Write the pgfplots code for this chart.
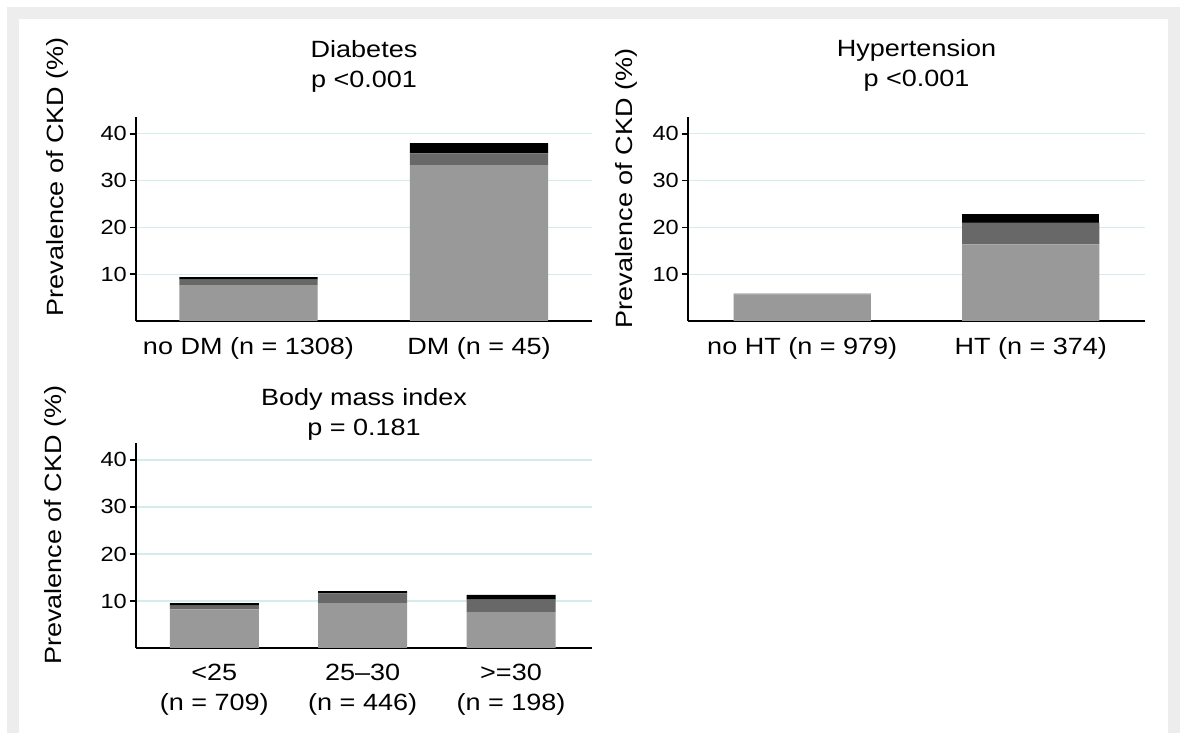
\documentclass[border=0pt]{standalone}
\usepackage{fontspec}
\setmainfont{Liberation Sans}[FakeStretch=1.15]
\usepackage{pgfplots}
\pgfplotsset{compat=1.18}
\definecolor{frame}{HTML}{EDEDED}
\definecolor{lightbar}{HTML}{999999}
\definecolor{darkbar}{HTML}{686868}
\definecolor{gridc}{HTML}{D5ECEF}
\newcommand{\bigf}{\fontsize{23.5}{30}\selectfont}
\newcommand{\tickf}{\fontsize{20.5}{24}\selectfont}
\pgfplotsset{
  ckd/.style={
    scale only axis,
    ybar stacked,
    bar width=0.6,
    ymin=0, ymax=43.6,
    ytick={10,20,30,40},
    xtick=data,
    axis x line=bottom,
    axis y line=left,
    axis line style={line width=1.5pt,-},
    tick align=outside,
    major tick length=6pt,
    ytick style={line width=1.5pt,black},
    xtick style={draw=none},
    ymajorgrids,
    grid style={gridc,line width=1.2pt},
    /pgf/number format/assume math mode=true,
    yticklabel style={font=\tickf,inner sep=0pt,anchor=east,xshift=-3pt},
    xticklabel style={font=\bigf,inner sep=0pt,anchor=north,align=center,yshift=-10pt},
    title style={font=\bigf,align=center,inner sep=0pt,at={(0.5,1)},anchor=north},
    ylabel={Prevalence of CKD (\%)},
    ylabel style={font=\bigf,inner sep=0pt,anchor=base west,rotate=0},
    every axis plot/.append style={draw=none},
  }
}
\begin{document}
\begin{tikzpicture}
\useasboundingbox (0pt,0pt) rectangle (1187pt,733pt);
\fill[frame] (7pt,0pt) rectangle (1180pt,726pt);
\fill[white] (19pt,0pt) rectangle (1168pt,714pt);

% Panel 1: Diabetes
\begin{axis}[ckd,
  at={(136pt,412pt)}, anchor=south west,
  width=456pt, height=204pt,
  xmin=-0.488, xmax=1.49,
  xticklabels={no DM (n = 1308), DM (n = 45)},
  title={Diabetes\\p <0.001},
  title style={yshift=71pt},
  ylabel style={at={(axis description cs:-0.1594,0.021)}},
]
\addplot[fill=lightbar] coordinates {(0,7.65) (1,33.3)};
\addplot[fill=darkbar] coordinates {(0,1.2) (1,2.5)};
\addplot[fill=black] coordinates {(0,0.55) (1,2.2)};
\end{axis}

% Panel 2: Hypertension
\begin{axis}[ckd,
  at={(688pt,412pt)}, anchor=south west,
  width=457pt, height=204pt,
  xmin=-0.5, xmax=1.5,
  xticklabels={no HT (n = 979), HT (n = 374)},
  title={Hypertension\\p <0.001},
  title style={yshift=72pt},
  ylabel style={at={(axis description cs:-0.1204,-0.0358)}},
]
\addplot[fill=lightbar] coordinates {(0,5.7) (1,16.4)};
\addplot[fill=darkbar] coordinates {(0,0.15) (1,4.6)};
\addplot[fill=black] coordinates {(0,0) (1,1.85)};
\end{axis}

% Panel 3: Body mass index
\begin{axis}[ckd,
  at={(136pt,85pt)}, anchor=south west,
  width=456pt, height=205pt,
  xmin=-0.528, xmax=2.546,
  xticklabels={{<25\\(n = 709)}, {25–30\\(n = 446)}, {>=30\\(n = 198)}},
  title={Body mass index\\p = 0.181},
  title style={yshift=48.3pt},
  ylabel style={at={(axis description cs:-0.163,-0.083)}},
]
\addplot[fill=lightbar] coordinates {(0,8.2) (1,9.45) (2,7.65)};
\addplot[fill=darkbar] coordinates {(0,0.8) (1,2.15) (2,2.65)};
\addplot[fill=black] coordinates {(0,0.55) (1,0.5) (2,1.0)};
\end{axis}
\end{tikzpicture}
\end{document}
